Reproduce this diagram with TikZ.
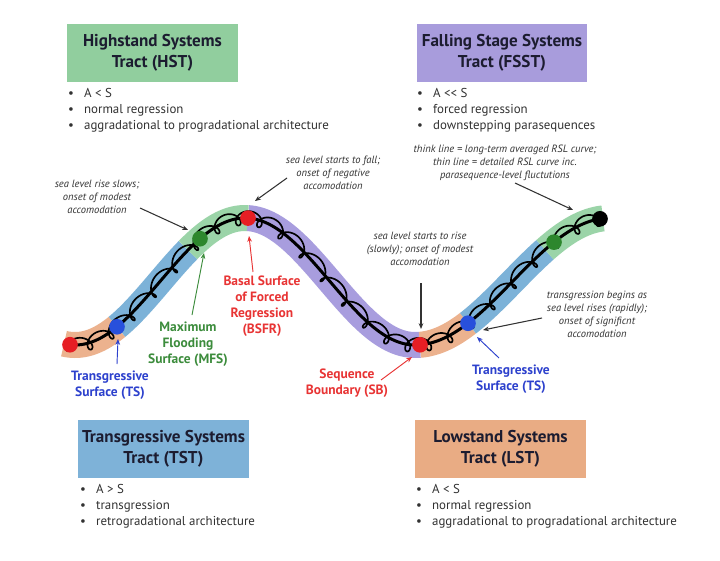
\documentclass[tikz,border=0pt]{standalone}
\usepackage{fontspec}
\setmainfont{PT Sans}
\usetikzlibrary{arrows.meta}
\definecolor{bandOr}{RGB}{236,178,142}
\definecolor{bandBl}{RGB}{124,178,216}
\definecolor{bandGr}{RGB}{155,212,168}
\definecolor{bandPu}{RGB}{168,157,222}
\definecolor{boxGr}{RGB}{145,206,158}
\definecolor{boxPu}{RGB}{168,156,220}
\definecolor{boxBl}{RGB}{126,178,216}
\definecolor{boxOr}{RGB}{233,172,132}
\definecolor{txtDark}{RGB}{28,28,48}
\definecolor{txtGray}{RGB}{50,50,50}
\definecolor{lblBlue}{RGB}{45,65,205}
\definecolor{lblGreen}{RGB}{60,140,60}
\definecolor{lblRed}{RGB}{232,52,52}
\definecolor{dotRed}{RGB}{230,30,36}
\definecolor{dotBlue}{RGB}{40,80,220}
\definecolor{dotGreen}{RGB}{45,135,45}
\tikzset{
  tractbox/.style={minimum width=5.1cm, minimum height=1.74cm, inner sep=0pt, align=center,
     text=txtDark, font=\fontsize{14.6}{17.9}\selectfont\bfseries},
  blist/.style={anchor=west, inner sep=0pt, align=left, text=txtGray,
     font=\fontsize{11}{13.7}\selectfont},
  annot/.style={inner sep=0pt, align=center, text=txtGray,
     font=\fontsize{9}{11.1}\selectfont\itshape},
  slabel/.style={inner sep=0pt, align=center, font=\fontsize{11.5}{13.7}\selectfont\bfseries},
  band/.style={line width=0.78cm},
  dot/.style={circle, inner sep=0pt, minimum size=0.47cm},
  annarrow/.style={draw=txtGray, line width=0.9pt, -{Stealth[length=5pt,width=4pt]}},
  colarrow/.style={line width=0.8pt, -{Stealth[length=5pt,width=4pt]}}
}
\newcommand{\bl}[1]{\makebox[13.6pt][l]{\textbullet}#1}
\begin{document}
\begin{tikzpicture}[x=0.03cm,y=-0.03cm,
  declare function={fy(\x)=(\x<=415)*(281.5-63.5*cos((\x-245)*1.058824))+(\x>415)*(281.5+63.5*cos((\x-415)*0.923077));}]
\useasboundingbox[fill=white] (0,0) rectangle (720,561);

% tract boxes
\node[tractbox, fill=boxGr] (hst) at (152.5,53) {Highstand Systems\\Tract (HST)};
\node[tractbox, fill=boxPu] (fsst) at (502,53) {Falling Stage Systems\\Tract (FSST)};
\node[tractbox, fill=boxBl] (tst) at (163.5,448.5) {Transgressive Systems\\Tract (TST)};
\node[tractbox, fill=boxOr] (lst) at (500.5,448.5) {Lowstand Systems\\Tract (LST)};

% bullet lists
\node[blist] (hstl) at (68,110) {\bl{A < S}\\\bl{normal regression}\\\bl{aggradational to progradational architecture}};
\node[blist] (fsstl) at (417,110) {\bl{A <\kern0pt< S}\\\bl{forced regression}\\\bl{downstepping parasequences}};
\node[blist] (tstl) at (80,506) {\bl{A > S}\\\bl{transgression}\\\bl{retrogradational architecture}};
\node[blist] (lstl) at (416,506) {\bl{A < S}\\\bl{normal regression}\\\bl{aggradational to progradational architecture}};

% coloured band
\foreach \a/\b/\c in {64/117/bandOr,117/188/bandBl,188/248/bandGr,248/420/bandPu,420/468/bandOr,468/545/bandBl,545/603/bandGr}
  \draw[band, draw=\c] plot[domain=\a:\b, samples=60] (\x,{fy(\x)});

% thick averaged curve
\draw[line width=0.09cm] plot[domain=70:600, samples=220] (\x,{fy(\x)});
% thin detailed curve with loops
\draw[line width=0.05cm] plot[domain=70:415, samples=440] ({\x+7*cos(17*\x)},{fy(\x)+7*sin(17*\x)})
   -- plot[domain=415:600, samples=240] ({\x+7*cos(17*\x)},{fy(\x)+7*sin(17*\x)});

% dots
\node[dot, fill=dotRed] (d1) at (70,{fy(70)}) {};
\node[dot, fill=dotBlue] (d2) at (117,{fy(117)}) {};
\node[dot, fill=dotGreen] (d3) at (200,{fy(200)}) {};
\node[dot, fill=dotRed] (d4) at (248,{fy(248)}) {};
\node[dot, fill=dotRed] (d5) at (420,{fy(420)}) {};
\node[dot, fill=dotBlue] (d6) at (468,{fy(468)}) {};
\node[dot, fill=dotGreen] (d7) at (554,{fy(554)}) {};
\node[dot, fill=black] (d8) at (600,{fy(600)}) {};

% annotations
\node[annot] (n1) at (97,197) {sea level rise slows;\\onset of modest\\accomodation};
\node[annot] (n2) at (333,173) {sea level starts to fall;\\onset of negative\\accomodation};
\node[annot] (n3) at (505,163) {think line = long-term averaged RSL curve;\\thin line = detailed RSL curve inc.\\parasequence-level fluctutions};
\node[annot] (n4) at (420,249) {sea level starts to rise\\(slowly); onset of modest\\accomodation};
\node[annot] (n5) at (597,314) {transgression begins as\\sea level rises (rapidly);\\onset of significnt\\accomodation};

\coordinate (n1s) at (140,208); \coordinate (n1e) at (188,230);
\coordinate (n2s) at (287,178); \coordinate (n2e) at (255,201);
\coordinate (n3s) at (515,183); \coordinate (n3e) at (573,210);
\coordinate (n4s) at (421,283); \coordinate (n4e) at (421,329);
\coordinate (n5s) at (542,318); \coordinate (n5e) at (483,330);
\draw[annarrow] (n1s) -- (n1e);
\draw[annarrow] (n2s) -- (n2e);
\draw[annarrow] (n3s) -- (n3e);
\draw[annarrow] (n4s) -- (n4e);
\draw[annarrow] (n5s) -- (n5e);

% surface labels
\node[slabel, text=lblBlue] (ts1) at (110,385) {Transgressive\\Surface (TS)};
\node[slabel, text=lblGreen] (mfs) at (188,344) {Maximum\\Flooding\\Surface (MFS)};
\node[slabel, text=lblRed] (bsfr) at (262,306) {Basal Surface\\of Forced\\Regression\\(BSFR)};
\node[slabel, text=lblRed] (sb) at (347,383) {Sequence\\Boundary (SB)};
\node[slabel, text=lblBlue] (ts2) at (511,379) {Transgressive\\Surface (TS)};

\coordinate (ts1s) at (117,364); \coordinate (ts1e) at (118,339);
\coordinate (mfss) at (192,315); \coordinate (mfse) at (204,253);
\coordinate (bsfrs) at (253,272); \coordinate (bsfre) at (249,236);
\coordinate (sbs) at (381,380); \coordinate (sbe) at (412,357);
\coordinate (ts2s) at (499,358); \coordinate (ts2e) at (477,337);
\draw[colarrow, draw=lblBlue] (ts1s) -- (ts1e);
\draw[colarrow, draw=lblGreen] (mfss) -- (mfse);
\draw[colarrow, draw=lblRed] (bsfrs) -- (bsfre);
\draw[colarrow, draw=lblRed] (sbs) -- (sbe);
\draw[colarrow, draw=lblBlue] (ts2s) -- (ts2e);
\end{tikzpicture}
\end{document}
